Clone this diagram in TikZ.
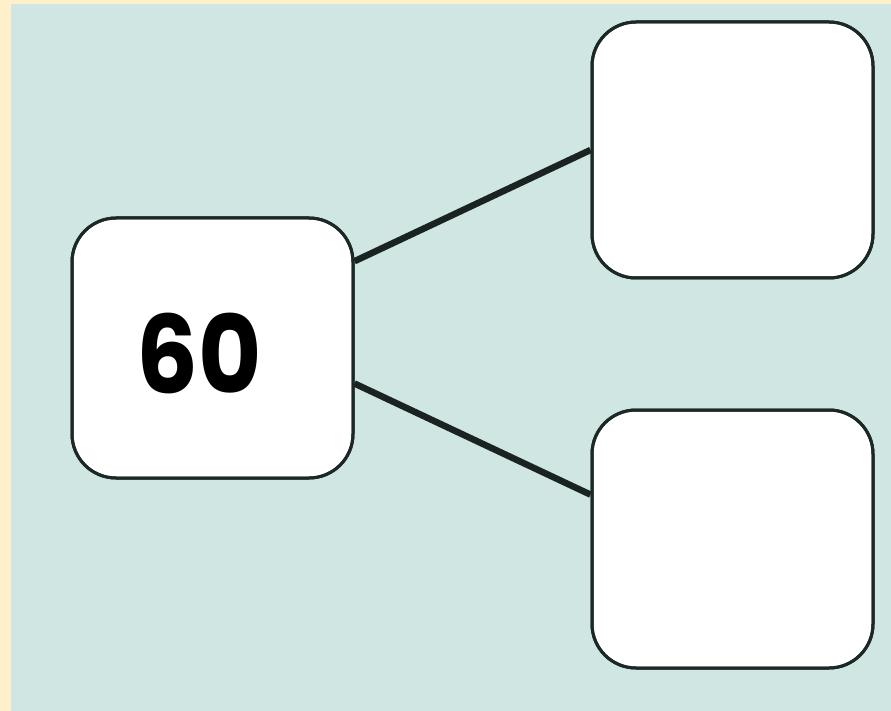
\documentclass[tikz,border=0pt]{standalone}
\usepackage{fontspec}
\usepackage{graphicx}
\setmainfont{Poppins}
\usetikzlibrary{calc}
\definecolor{cream}{HTML}{FFF0CC}
\definecolor{bgteal}{HTML}{CFE6E2}
\definecolor{edge}{HTML}{1C2826}
\tikzset{
  box/.style={draw=edge, line width=3pt, fill=white, rounded corners=44pt, minimum width=281pt, minimum height=258pt, inner sep=0pt},
  conn/.style={draw=edge!90!black, line width=6.5pt},
}
\begin{document}
\begin{tikzpicture}[x=1pt,y=-1pt]
\fill[cream] (0,0) rectangle (891,711);
\fill[bgteal] (11,4) rectangle (891,711);
\useasboundingbox (0,0) rectangle (891,711);
\node[box, minimum height=260pt] (a) at (212.5,348) {};
\node[font=\fontsize{108}{108}\selectfont\bfseries] (t) at (199,353) {\scalebox{0.9}[1]{60}};
\node[box, minimum height=256pt] (b) at (732.5,150) {};
\node[box] (c) at (732.5,539) {};
\draw[conn] ($(a.north east)!0.17!(a.south east)$) coordinate (a1) -- (b.west);
\draw[conn] ($(a.north east)!0.635!(a.south east)$) coordinate (a2) -- ($(c.north west)!0.33!(c.south west)$) coordinate (c1);
\node[box, minimum height=260pt, fill=none] at (a) {};
\node[box, minimum height=256pt, fill=none] at (b) {};
\node[box, fill=none] at (c) {};
\end{tikzpicture}
\end{document}
